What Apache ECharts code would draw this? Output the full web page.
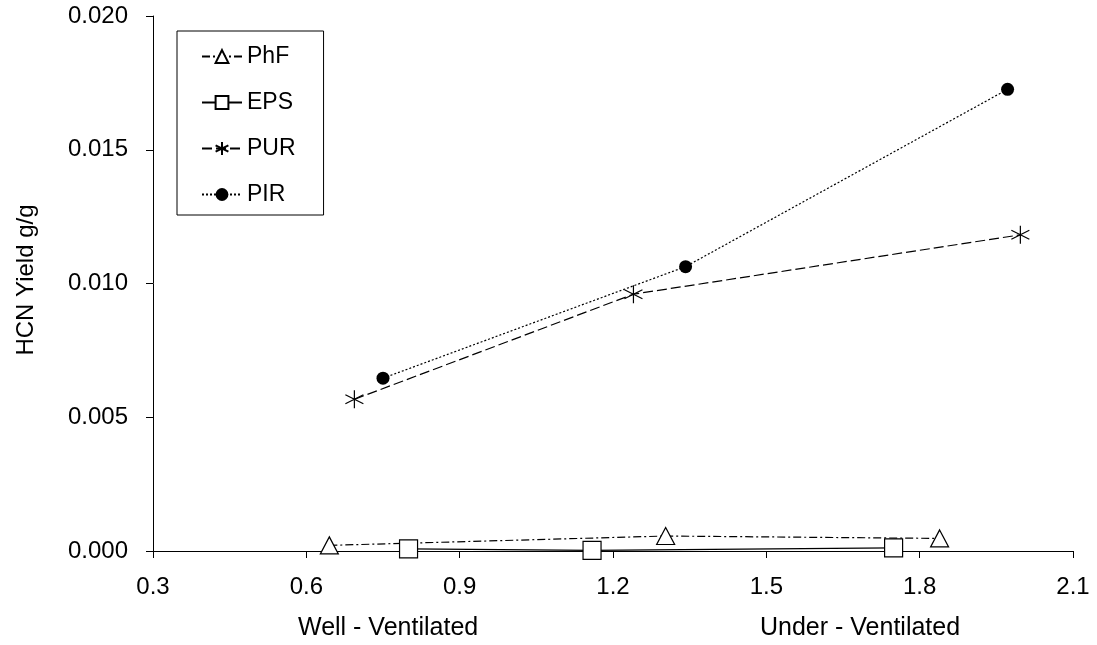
<!DOCTYPE html>
<html>
<head>
<meta charset="utf-8">
<script src="https://cdn.jsdelivr.net/npm/echarts@6/dist/echarts.min.js"></script>
<style>
html,body{margin:0;padding:0;background:#fff;}
#c{width:1097px;height:645px;}
</style>
</head>
<body>
<div id="c"></div>
<script>
const seriesNames = ['PhF', 'EPS', 'PUR', 'PIR'];
const phfX = [0.645, 1.303, 1.839];
const phfY = [0.00021, 0.00056, 0.00047];
const epsX = [0.800, 1.159, 1.749];
const epsY = [0.00008, 0.00002, 0.00012];
const purX = [0.694, 1.240, 1.997];
const purY = [0.00567, 0.00960, 0.01182];
const pirX = [0.750, 1.342, 1.972];
const pirY = [0.00646, 0.01063, 0.01726];
const xTitleLeft = 'Well - Ventilated';
const xTitleRight = 'Under - Ventilated';
const yTitle = 'HCN Yield g/g';

const pairs = (xs, ys) => xs.map((x, i) => [x, ys[i]]);
const FONT = 'Liberation Sans, Arial, sans-serif';
const starPath = 'path://M10,0L10,20M1.34,5L18.66,15M1.34,15L18.66,5';

const chart = echarts.init(document.getElementById('c'), null, {renderer: 'canvas'});
chart.setOption({
  animation: false,
  backgroundColor: '#ffffff',
  grid: {left: 153, right: 24, top: 16, bottom: 94, containLabel: false},
  xAxis: {
    type: 'value', min: 0.3, max: 2.1, interval: 0.3,
    axisLine: {show: true, lineStyle: {color: '#000', width: 1}},
    axisTick: {show: true, inside: false, length: 7, lineStyle: {color: '#000'}},
    axisLabel: {color: '#000', fontFamily: FONT, fontSize: 24, margin: 24,
      formatter: v => v.toFixed(1)},
    splitLine: {show: false}
  },
  yAxis: {
    type: 'value', min: 0, max: 0.02, interval: 0.005,
    axisLine: {show: true, lineStyle: {color: '#000', width: 1}},
    axisTick: {show: true, inside: false, length: 7, lineStyle: {color: '#000'}},
    axisLabel: {color: '#000', fontFamily: FONT, fontSize: 24, margin: 25,
      formatter: v => v.toFixed(3)},
    splitLine: {show: false}
  },
  legend: {
    orient: 'vertical', left: 177, top: 31,
    padding: [14, 28, 9, 24],
    itemWidth: 40, itemHeight: 16, itemGap: 23,
    borderColor: '#000', borderWidth: 1, backgroundColor: '#fff',
    textStyle: {color: '#000', fontFamily: FONT, fontSize: 23},
    data: seriesNames
  },
  graphic: [
    {type: 'text', left: 298, top: 616,
      style: {text: xTitleLeft, fill: '#000', font: '25px ' + FONT}},
    {type: 'text', left: 760, top: 616,
      style: {text: xTitleRight, fill: '#000', font: '25px ' + FONT}},
    {type: 'text', x: 26, y: 280, rotation: Math.PI / 2,
      style: {text: yTitle, fill: '#000', font: '24px ' + FONT, align: 'center', verticalAlign: 'middle'}}
  ],
  series: [
    {
      name: seriesNames[0], type: 'line', data: pairs(phfX, phfY),
      symbol: 'triangle', symbolSize: [18, 17],
      itemStyle: {color: '#fff', borderColor: '#000', borderWidth: 1.2},
      lineStyle: {color: '#000', width: 1.2, type: [8, 3, 2, 3]}, z: 3
    },
    {
      name: seriesNames[1], type: 'line', data: pairs(epsX, epsY),
      symbol: 'rect', symbolSize: 18,
      itemStyle: {color: '#fff', borderColor: '#000', borderWidth: 1.2},
      lineStyle: {color: '#000', width: 1.2, type: 'solid'}, z: 4
    },
    {
      name: seriesNames[2], type: 'line', data: pairs(purX, purY),
      symbol: starPath, symbolSize: 18,
      itemStyle: {color: '#000', borderColor: '#000', borderWidth: 1.2},
      lineStyle: {color: '#000', width: 1.2, type: [10, 4]}, z: 3
    },
    {
      name: seriesNames[3], type: 'line', data: pairs(pirX, pirY),
      symbol: 'circle', symbolSize: 13,
      itemStyle: {color: '#000', borderColor: '#000', borderWidth: 0},
      lineStyle: {color: '#000', width: 1.2, type: [2, 2]}, z: 3
    }
  ]
});
</script>
</body>
</html>
